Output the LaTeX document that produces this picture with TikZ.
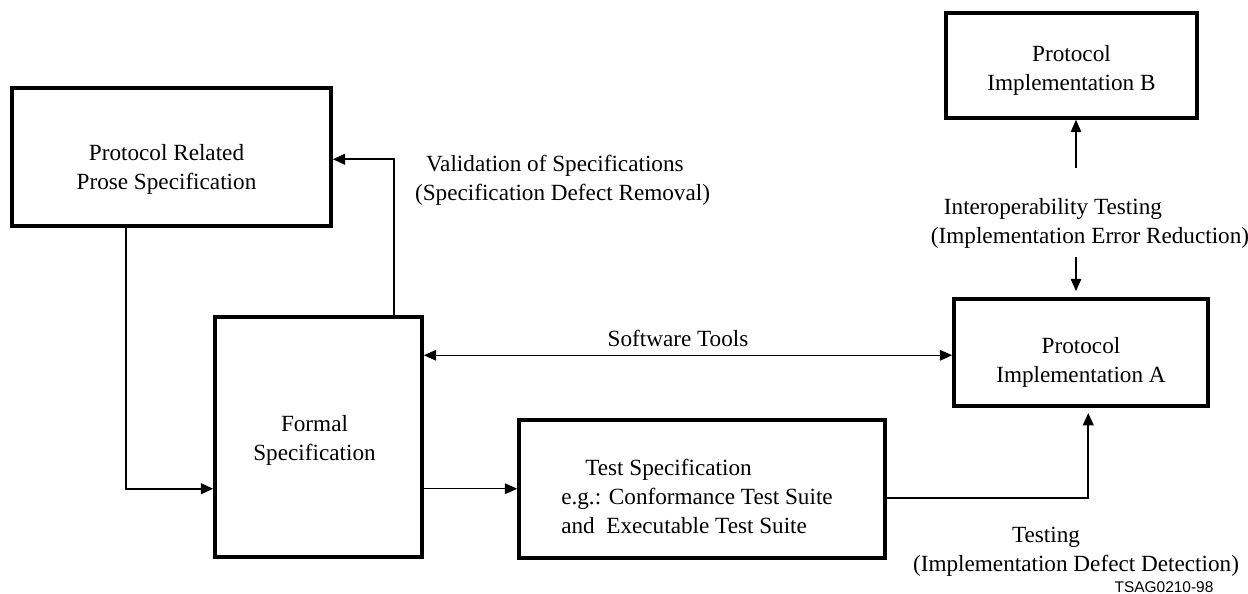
\documentclass[tikz,border=0pt]{standalone}
\usepackage{fontspec}
\setmainfont{Liberation Serif}
\newfontfamily\tagfont{Liberation Sans}
\usetikzlibrary{arrows.meta, positioning}

\begin{document}
\begin{tikzpicture}[x=0.02cm, y=-0.02cm]
    \tikzset{
      block/.style={rectangle, draw, line width=2pt, inner sep=0pt},
      caption/.style={font=\fontsize{13.2}{16.5}\selectfont},
      boxtext/.style={caption, align=center},
      link/.style={line width=1.3pt, -{Triangle[length=7pt, width=6pt]}},
      thinlink/.style={line width=0.7pt, -{Triangle[length=7pt, width=6pt]}},
      bothlink/.style={line width=0.7pt,
        {Triangle[length=7pt, width=6pt]}-{Triangle[length=7pt, width=6pt]}}
    }
    \useasboundingbox (0,0) rectangle (1248,593);
    \node[block, minimum width=6.38cm, minimum height=2.76cm,
      label={[boxtext, yshift=-0.24cm, xshift=-0.1cm]center:{Protocol Related\\ Prose Specification}}]
      (prose) at (171.5,157) {};
    \node[block, minimum width=4.14cm, minimum height=4.8cm,
      label={[boxtext, yshift=-0.06cm, xshift=-0.08cm]center:{Formal\\ Specification}}]
      (formal) at (318.5,437) {};
    \node[block, minimum width=7.32cm, minimum height=2.76cm,
      label={[boxtext, align=left, yshift=-0.14cm, xshift=-0.1cm]center:{\hspace*{0.48cm}Test Specification\\ e.g.: Conformance Test Suite\\ and~~Executable Test Suite}}]
      (test) at (702,489) {};
    \node[block, minimum width=5.08cm, minimum height=2.14cm,
      label={[boxtext, yshift=-0.2cm]center:{Protocol\\ Implementation A}}]
      (implA) at (1081,352.5) {};
    \node[block, minimum width=5.02cm, minimum height=2.1cm,
      label={[boxtext, yshift=-0.1cm]center:{Protocol\\ Implementation B}}]
      (implB) at (1071.5,65.5) {};
    \node[caption, align=left] (valid) at (562.5,180)
      {\hspace*{0.22cm}Validation of Specifications\\ (Specification Defect Removal)};
    \node[caption, align=left] (interop) at (1090,223)
      {\hspace*{0.26cm}Interoperability Testing\\ (Implementation Error Reduction)};
    \node[caption, align=center] (testing) at (1076,552)
      {Testing\hspace*{1.2cm}\\ (Implementation Defect Detection)};
    \node[font=\tagfont\fontsize{8.8}{10}\selectfont] (tag) at (1164,587) {TSAG0210-98};
    \coordinate (up) at (1076,168);
    \coordinate (down) at (1076,257);
    % connectors
    \draw[link] ([xshift=2.32cm]prose.south west) |- ([yshift=1.4cm]formal.south west);
    \draw[link] ([xshift=3.62cm]formal.north west) |- ([yshift=-1.46cm]prose.north east);
    \draw[bothlink] ([yshift=-0.8cm]formal.north east) -- ([yshift=-0.8cm]formal.north east -| implA.west)
      node[caption, midway, yshift=0.34cm, xshift=-0.2cm] {Software Tools};
    \draw[thinlink] ([yshift=1.4cm]formal.south east) -- ([yshift=1.4cm]formal.south east -| test.west);
    \draw[link, shorten >=3pt] ([yshift=1.24cm]test.south east) -| ([xshift=2.72cm]implA.south west);
    \draw[thinlink] (up) -- (up |- implB.south);
    \draw[thinlink, shorten >=3.5pt] (down) -- (down |- implA.north);
\end{tikzpicture}
\end{document}
